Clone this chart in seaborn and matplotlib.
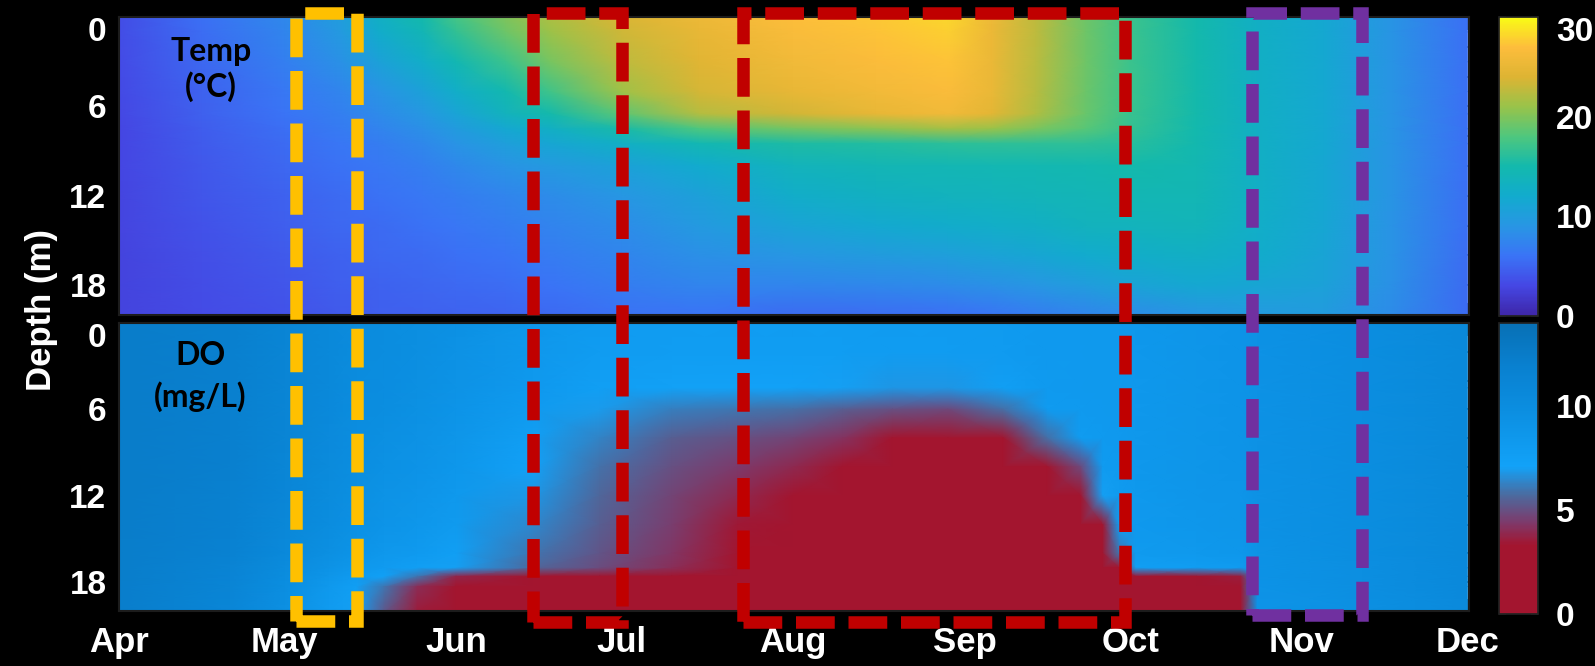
import numpy as np
import pandas as pd
import matplotlib
matplotlib.use("Agg")
import matplotlib.pyplot as plt
import seaborn as sns
from matplotlib.colors import LinearSegmentedColormap
from matplotlib.patches import Rectangle
from matplotlib.transforms import blended_transform_factory

# ---- data ------------------------------------------------------------
season_start = pd.Timestamp("2019-04-01")
month_labels = ["Apr", "May", "Jun", "Jul", "Aug", "Sep", "Oct", "Nov", "Dec"]
month_starts = pd.date_range("2019-04-01", "2019-12-01", freq="MS")

# temperature profiles (deg C), one list per sampling day, top -> bottom
temp_days = [0, 15, 30, 40, 47, 55, 61, 70, 78, 91, 105, 122, 137, 150,
             158, 166, 175, 183, 195, 206, 218, 230, 244]
temp_depths = [0, 1, 3, 5, 6.5, 7.5, 8.5, 10, 12, 14, 16, 18, 20]
temp_profiles = [
    [3.5, 3.5, 3.3, 3.2, 3.1, 3.0, 3.0, 3.0, 2.9, 2.9, 2.8, 2.8, 2.8],
    [5.8, 5.6, 5.2, 4.9, 4.7, 4.5, 4.4, 4.2, 4.0, 3.8, 3.6, 3.4, 3.3],
    [7.8, 7.5, 7.0, 6.4, 6.0, 5.7, 5.5, 5.2, 4.9, 4.6, 4.3, 4.0, 3.8],
    [10.0, 9.5, 8.6, 7.6, 7.0, 6.6, 6.3, 5.9, 5.5, 5.2, 4.9, 4.6, 4.3],
    [13.0, 12.3, 10.6, 8.9, 8.0, 7.4, 6.9, 6.4, 5.9, 5.5, 5.2, 4.9, 4.6],
    [15.0, 14.2, 12.6, 10.6, 9.3, 8.5, 7.8, 7.0, 6.4, 5.9, 5.5, 5.1, 4.7],
    [17.5, 16.6, 14.6, 12.6, 11.0, 9.8, 8.8, 7.8, 6.9, 6.3, 5.8, 5.3, 4.9],
    [20.0, 19.3, 17.0, 14.8, 13.5, 11.5, 10.2, 8.9, 7.6, 6.9, 6.2, 5.6, 5.0],
    [21.8, 21.2, 19.6, 17.3, 15.0, 13.0, 11.3, 9.6, 8.2, 7.4, 6.7, 6.0, 5.3],
    [23.8, 23.4, 22.6, 21.3, 18.6, 15.3, 12.8, 10.6, 9.2, 8.3, 7.5, 6.8, 5.9],
    [25.5, 25.0, 24.3, 23.6, 22.2, 18.0, 14.5, 12.0, 10.5, 9.5, 8.5, 7.5, 6.0],
    [27.0, 26.5, 25.8, 25.0, 23.5, 19.5, 15.5, 13.6, 12.5, 11.0, 9.2, 7.5, 5.5],
    [27.5, 27.2, 26.8, 26.0, 25.0, 20.5, 15.8, 14.2, 13.2, 11.8, 9.8, 7.8, 5.6],
    [28.2, 27.8, 27.2, 26.7, 25.8, 21.5, 16.2, 14.4, 13.5, 12.2, 10.3, 8.2, 5.8],
    [25.5, 25.4, 25.3, 25.1, 24.5, 21.0, 16.3, 14.5, 13.7, 12.6, 10.8, 8.6, 6.2],
    [22.5, 22.5, 22.4, 22.3, 22.0, 19.8, 16.4, 14.6, 13.9, 13.0, 11.3, 9.2, 6.8],
    [19.3, 19.3, 19.3, 19.2, 19.0, 18.3, 16.3, 14.7, 14.1, 13.5, 12.0, 10.0, 7.6],
    [17.0, 17.0, 17.0, 17.0, 16.9, 16.7, 16.0, 15.0, 14.3, 13.7, 12.5, 10.8, 8.3],
    [15.0, 15.0, 15.0, 15.0, 15.0, 14.9, 14.8, 14.6, 14.3, 13.9, 13.0, 11.5, 9.0],
    [13.0, 13.0, 13.0, 13.0, 13.0, 13.0, 12.9, 12.9, 12.8, 12.6, 12.2, 11.2, 9.6],
    [11.5, 11.5, 11.5, 11.5, 11.5, 11.5, 11.5, 11.4, 11.4, 11.3, 11.1, 10.6, 9.8],
    [9.0, 9.0, 9.0, 9.0, 9.0, 9.0, 9.0, 9.0, 9.0, 8.9, 8.8, 8.6, 8.2],
    [5.8, 5.8, 5.8, 5.8, 5.8, 5.8, 5.8, 5.8, 5.7, 5.7, 5.6, 5.5, 5.4],
]

# dissolved oxygen profiles (mg/L)
do_days = [0, 20, 30, 38, 43, 48, 54, 61, 75, 87, 100, 112, 122, 131, 140,
           150, 160, 168, 174, 178, 181, 184, 195, 203, 206, 225, 244]
do_depths = [0, 2, 4.5, 6, 8, 10, 12, 14, 16, 17, 17.6, 18.3, 20]
do_profiles = [
    [12.4, 12.4, 12.4, 12.4, 12.4, 12.4, 12.4, 12.4, 12.3, 12.3, 12.3, 12.2, 12.2],
    [12.0, 12.0, 12.0, 12.0, 12.0, 12.0, 11.9, 11.8, 11.6, 11.4, 11.3, 11.2, 11.0],
    [11.2, 11.2, 11.2, 11.2, 11.2, 11.1, 11.0, 10.8, 10.5, 10.2, 10.0, 9.8, 9.6],
    [10.6, 10.6, 10.6, 10.5, 10.4, 10.3, 10.2, 10.0, 9.6, 9.2, 8.8, 8.4, 8.0],
    [10.2, 10.2, 10.1, 10.0, 9.9, 9.8, 9.6, 9.4, 9.0, 8.5, 8.0, 7.5, 7.0],
    [10.0, 10.0, 9.9, 9.8, 9.6, 9.4, 9.2, 9.0, 8.5, 8.0, 7.3, 6.0, 5.2],
    [9.7, 9.7, 9.6, 9.5, 9.3, 9.1, 8.9, 8.6, 8.2, 7.6, 6.0, 4.0, 3.5],
    [9.4, 9.3, 9.2, 9.0, 8.8, 8.6, 8.4, 8.1, 7.6, 7.0, 3.8, 2.2, 1.8],
    [8.6, 8.5, 8.3, 8.0, 7.6, 7.2, 6.8, 6.4, 6.0, 5.6, 3.0, 1.4, 1.2],
    [8.0, 7.9, 7.6, 6.9, 6.3, 5.9, 5.6, 5.4, 5.1, 4.9, 2.5, 1.2, 1.0],
    [7.9, 7.8, 7.3, 6.2, 5.4, 5.0, 4.7, 4.5, 4.3, 4.1, 2.0, 1.2, 1.0],
    [7.9, 7.8, 7.2, 6.0, 5.0, 4.4, 3.9, 3.4, 3.0, 2.5, 1.5, 1.1, 1.0],
    [7.9, 7.8, 7.2, 5.8, 4.7, 3.9, 3.2, 2.5, 1.8, 1.4, 1.2, 1.0, 1.0],
    [7.9, 7.8, 7.0, 5.4, 4.2, 3.2, 2.4, 1.8, 1.4, 1.2, 1.1, 1.0, 1.0],
    [8.0, 7.9, 6.8, 5.0, 3.3, 2.2, 1.6, 1.3, 1.2, 1.1, 1.0, 1.0, 1.0],
    [8.0, 7.9, 6.8, 4.8, 2.8, 1.8, 1.4, 1.2, 1.1, 1.0, 1.0, 1.0, 1.0],
    [8.1, 8.0, 7.6, 5.8, 2.6, 1.6, 1.3, 1.1, 1.0, 1.0, 1.0, 1.0, 1.0],
    [8.3, 8.3, 8.2, 8.0, 5.8, 2.0, 1.3, 1.1, 1.0, 1.0, 1.0, 1.0, 1.0],
    [8.3, 8.3, 8.3, 8.2, 7.9, 4.8, 1.6, 1.1, 1.0, 1.0, 1.0, 1.0, 1.0],
    [8.4, 8.4, 8.4, 8.3, 8.2, 8.0, 7.0, 2.8, 1.2, 1.0, 1.0, 1.0, 1.0],
    [8.4, 8.4, 8.4, 8.4, 8.3, 8.2, 8.1, 7.8, 6.0, 2.5, 1.3, 1.0, 1.0],
    [8.5, 8.5, 8.5, 8.5, 8.5, 8.5, 8.4, 8.3, 8.1, 7.6, 3.0, 1.5, 1.3],
    [8.8, 8.8, 8.8, 8.8, 8.8, 8.8, 8.7, 8.6, 8.4, 7.8, 3.2, 1.6, 1.3],
    [9.0, 9.0, 9.0, 9.0, 9.0, 9.0, 8.9, 8.8, 8.6, 8.0, 3.6, 1.8, 1.5],
    [9.3, 9.3, 9.3, 9.3, 9.3, 9.3, 9.3, 9.3, 9.2, 9.2, 9.2, 9.1, 9.0],
    [9.8, 9.8, 9.8, 9.8, 9.8, 9.8, 9.8, 9.8, 9.8, 9.7, 9.7, 9.7, 9.6],
    [10.6, 10.6, 10.6, 10.6, 10.6, 10.6, 10.6, 10.6, 10.6, 10.5, 10.5, 10.5, 10.4],
]

# highlighted periods
box_starts = ["2019-05-03", "2019-06-15", "2019-07-23", "2019-10-23"]
box_ends = ["2019-05-14", "2019-07-01", "2019-09-30", "2019-11-12"]
box_colors = ["#FFC000", "#C00000", "#C00000", "#7030A0"]

# ---- style --------------------------------------------------------------
sns.set_theme(style="ticks")
plt.rcParams["font.family"] = ["Liberation Sans", "DejaVu Sans"]
plt.rcParams["font.weight"] = "bold"

parula_like = ["#3E26A8", "#4547E4", "#3A74F6", "#2896E4", "#12ABCE", "#13B9AD",
               "#4EC77E", "#98C34A", "#DDB433", "#FDBD3C", "#F9FB15"]
temp_cmap = sns.blend_palette(parula_like, as_cmap=True)
do_stops = [(0.0, "#A3152F"), (3.3 / 14, "#A3152F"), (4.4 / 14, "#7D3A6B"),
            (5.7 / 14, "#4C6A9E"), (7.1 / 14, "#12A2F8"), (10 / 14, "#0B8DDF"),
            (12 / 14, "#0980CF"), (1.0, "#0870B5")]
do_cmap = LinearSegmentedColormap.from_list("do", do_stops)

W, H = 1595, 666
fig = plt.figure(figsize=(W / 100, H / 100), dpi=100, facecolor="black")
ax_t = fig.add_axes([119 / W, 1 - 315 / H, 1350 / W, 298 / H])
ax_d = fig.add_axes([119 / W, 1 - 611 / H, 1350 / W, 288 / H])
cax_t = fig.add_axes([1499 / W, 1 - 316 / H, 39 / W, 299 / H])
cax_d = fig.add_axes([1499 / W, 1 - 614 / H, 39 / W, 291 / H])

month_days = (month_starts - season_start).days

def draw_panel(ax, cax, days, depths, profiles, cmap, vmax, cticks):
    X, Y = np.meshgrid(days, depths)
    C = np.array(profiles).T
    mesh = ax.pcolormesh(X, Y, C, cmap=cmap, vmin=0, vmax=vmax,
                         shading="gouraud", rasterized=True)
    ax.set_xlim(0, 244.3)
    ax.set_ylim(20, 0)
    ax.set_xticks(month_days)
    ax.set_yticks(np.arange(0, 21, 2))
    ax.set_yticklabels([str(d) if d % 6 == 0 and d < 20 else "" for d in range(0, 21, 2)])
    ax.get_yticklabels()[0].set_verticalalignment("top")
    ax.tick_params(direction="in", length=9, width=1.2, color="#1c1c1c",
                   top=True, right=True, labelcolor="white", labelsize=24, pad=9)
    for sp in ax.spines.values():
        sp.set_color("#1c1c1c")
        sp.set_linewidth(1.5)
    cb = fig.colorbar(mesh, cax=cax, ticks=cticks)
    cb.outline.set_edgecolor("#222222")
    cax.tick_params(direction="in", length=5, width=1.2, color="#222222",
                    left=True, right=True, labelcolor="white", labelsize=24, pad=13)
    return cb

cb_t = draw_panel(ax_t, cax_t, temp_days, temp_depths, temp_profiles, temp_cmap, 30, [0, 10, 20, 30])
cb_d = draw_panel(ax_d, cax_d, do_days, do_depths, do_profiles, do_cmap, 14, [0, 5, 10])
cax_t.get_yticklabels()[-1].set_verticalalignment("top")

ax_t.tick_params(labelbottom=False)
ax_d.set_xticklabels(month_labels)
ax_d.tick_params(axis="x", labelsize=25, pad=11)

ax_t.text(0.068, 0.825, "Temp\n(°C)", transform=ax_t.transAxes, ha="center", va="center",
          fontsize=23, fontweight="bold", family=["Lato", "DejaVu Sans"], color="black",
          linespacing=1.2)
ax_d.text(0.06, 0.815, "DO\n(mg/L)", transform=ax_d.transAxes, ha="center", va="center",
          fontsize=23, fontweight="bold", family=["Lato", "DejaVu Sans"], color="black",
          linespacing=1.45)

fig.text(0.026, 0.534, "Depth (m)", rotation=90, ha="center", va="center",
         color="white", fontsize=25, fontweight="bold")

# dashed boxes spanning both panels
trans = blended_transform_factory(ax_d.transData, fig.transFigure)
box_top_px = 13
box_bottom_px = [621, 622, 622, 615]
for s, e, c, yb in zip(box_starts, box_ends, box_colors, box_bottom_px):
    x0 = (pd.Timestamp(s) - season_start).days
    x1 = (pd.Timestamp(e) - season_start).days
    y0 = 1 - yb / H
    y1 = 1 - box_top_px / H
    rect = Rectangle((x0, y0), x1 - x0, y1 - y0, transform=trans, fill=False,
                     edgecolor=c, linewidth=9, linestyle=(0, (3.1, 1.1)),
                     joinstyle="miter", capstyle="butt", clip_on=False, zorder=10)
    fig.add_artist(rect)

fig.savefig("out.png", dpi=100, facecolor="black")
